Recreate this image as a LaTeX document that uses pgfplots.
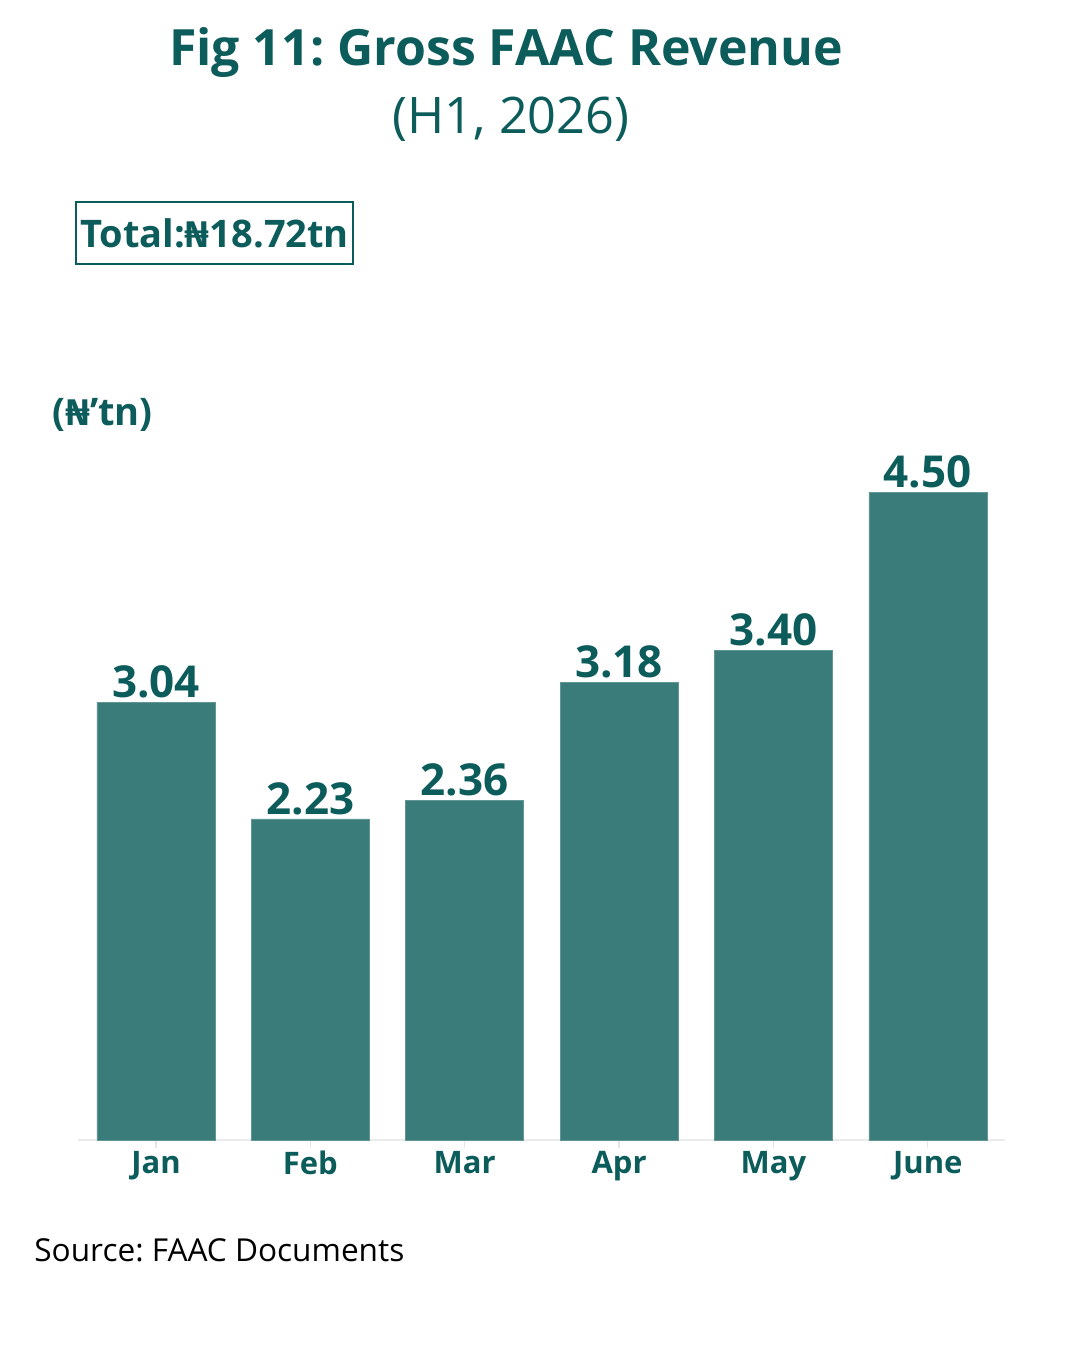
\documentclass[border=0pt]{standalone}
\usepackage{pgfplots}
\pgfplotsset{compat=1.18}
\usepackage{fontspec}
\setmainfont{Open Sans}
\newfontfamily\nairafont{Fira Sans}
\newcommand{\naira}{{\nairafont ₦}}
\frenchspacing
\definecolor{tealtxt}{HTML}{0B5C5A}
\definecolor{tealbar}{HTML}{3A7C79}
\begin{document}
\begin{tikzpicture}
\path[use as bounding box] (-39pt,-105pt) rectangle (501pt,570pt);
\begin{axis}[
  at={(0,0)}, anchor=south west,
  scale only axis, width=463.5pt, height=360pt,
  xmin=-0.505, xmax=5.5, ymin=0, ymax=5,
  axis y line=none, axis x line*=bottom,
  x axis line style={draw=black!8, line width=1pt, -},
  xtick={0,1,2,3,4,5},
  xticklabels={Jan,Feb,Mar,Apr,May,June},
  xtick style={draw=black!10, line width=0.6pt},
  major tick length=4pt, tick align=outside,
  xticklabel style={font=\fontsize{15.5}{18}\selectfont\bfseries, text=tealtxt, yshift=2pt},
  /pgf/number format/assume math mode=true,
  ybar, bar width=59pt,
  nodes near coords={\pgfmathprintnumber[fixed,fixed zerofill,precision=2]{\pgfplotspointmeta}},
  every node near coord/.append style={font=\fontsize{22}{25}\selectfont\bfseries, text=tealtxt, inner sep=2pt},
  clip=false,
]
\addplot[fill=tealbar, draw=tealbar!80!white, line width=0.3pt] coordinates {(0,3.04) (1,2.23) (2,2.36) (3,3.18) (4,3.40) (5,4.50)};
\end{axis}
\node[text=tealtxt, font=\fontsize{25}{30}\selectfont\bfseries] at (214pt,543.5pt) {Fig 11: Gross FAAC Revenue};
\node[text=tealtxt, font=\fontsize{25.2}{30}\selectfont] at (216.5pt,510.5pt) {(H1, 2026)};
\node[draw=tealtxt, line width=0.8pt, text=tealtxt, font=\fontsize{19}{22}\selectfont\bfseries, minimum width=138.5pt, minimum height=31pt, inner sep=1pt] at (68.25pt,453.5pt) {Total:\naira18.72tn};
\node[anchor=west, text=tealtxt, font=\fontsize{19}{22}\selectfont\bfseries, inner sep=0pt] at (-13pt,362.5pt) {(\naira’tn)};
\node[anchor=west, text=black, font=\fontsize{15.8}{18}\selectfont, inner sep=0pt] at (-22pt,-55pt) {Source: FAAC Documents};
\end{tikzpicture}
\end{document}
